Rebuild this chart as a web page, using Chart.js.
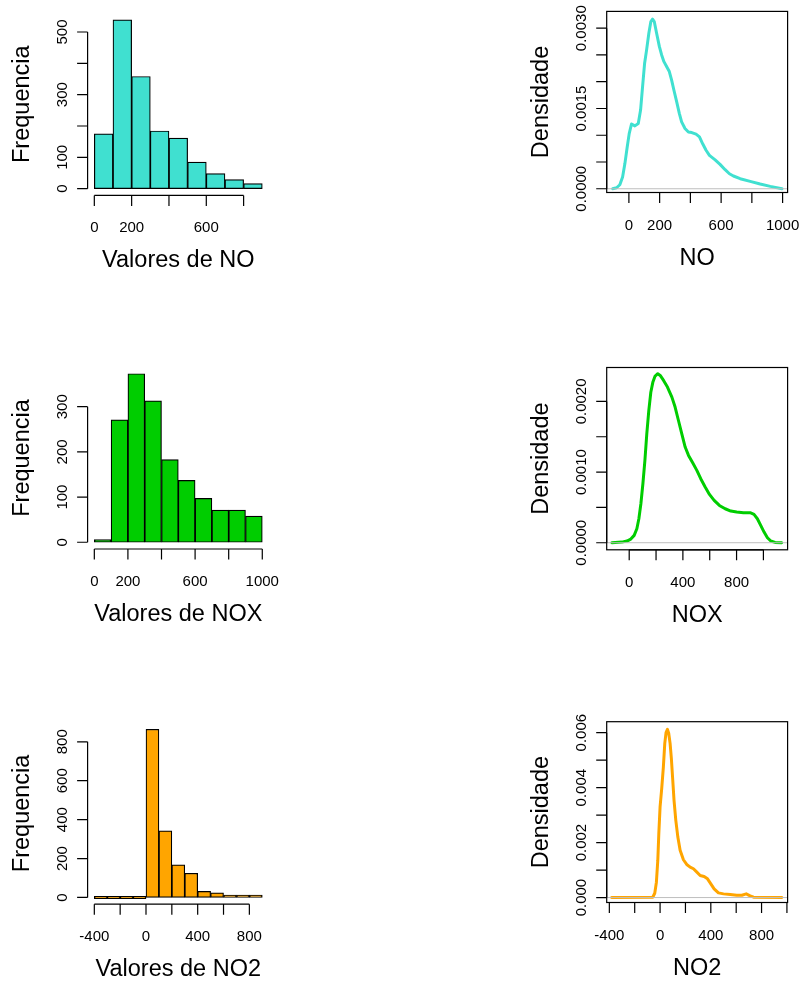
<!DOCTYPE html>
<html>
<head>
<meta charset="utf-8">
<script src="https://cdn.jsdelivr.net/npm/chart.js@4.4.1/dist/chart.umd.min.js"></script>
<style>
  html, body { margin: 0; padding: 0; background: #fff; }
  #page { position: relative; width: 803px; height: 983px; overflow: hidden; }
  canvas { position: absolute; }
</style>
</head>
<body>
<div id="page">
  <canvas id="histNO"></canvas>
  <canvas id="densNO"></canvas>
  <canvas id="histNOX"></canvas>
  <canvas id="densNOX"></canvas>
  <canvas id="histNO2"></canvas>
  <canvas id="densNO2"></canvas>
</div>
<script>
// histogram bins (edges) and counts
var noEdges = [0, 100, 200, 300, 400, 500, 600, 700, 800, 900];
var noCounts = [175, 539, 358, 184, 161, 85, 48, 29, 16];
var noxEdges = [0, 100, 200, 300, 400, 500, 600, 700, 800, 900, 1000];
var noxCounts = [6, 271, 373, 313, 183, 137, 97, 71, 71, 58];
var no2Edges = [-400, -300, -200, -100, 0, 100, 200, 300, 400, 500, 600, 700, 800, 900];
var no2Counts = [0, 0, 0, 0, 864, 342, 168, 124, 31, 24, 9, 3, 2];

// density curves
var noDensX = [-106, -80, -59, -41, -26, -11, 2, 17, 39, 61, 76, 89, 102, 115, 130, 143, 154, 165, 180, 198,
  213, 228, 246, 263, 278, 293, 311, 328, 343, 365, 387, 409, 437, 459, 480, 502, 524, 561, 593, 626,
  654, 680, 724, 789, 854, 920, 996];
var noDensY = [0, 0.000019, 0.000075, 0.00022, 0.00047, 0.00078, 0.00103, 0.00121, 0.001175, 0.00122,
  0.00147, 0.00191, 0.00234, 0.00259, 0.00291, 0.003125, 0.00317, 0.003125, 0.00291, 0.00266,
  0.0025, 0.002375, 0.00228, 0.00219, 0.00203, 0.00184, 0.001625, 0.00141, 0.00125, 0.001125,
  0.00106, 0.00105, 0.00102, 0.00097, 0.00084, 0.00072, 0.000625, 0.00054, 0.000456, 0.000356,
  0.00028, 0.000238, 0.000188, 0.000138, 0.0000875, 0.000044, 0];

var noxDensX = [-129, -55, -17, 12, 37, 57, 72, 87, 102, 117, 131, 146, 161, 176, 193, 213, 231, 256, 285, 318,
  342, 367, 392, 417, 442, 474, 504, 533, 566, 598, 633, 672, 715, 757, 801, 851, 901, 930, 955, 980,
  1005, 1030, 1055, 1087, 1136];
var noxDensY = [0, 0.000009, 0.000024, 0.000052, 0.000104, 0.000198, 0.00034, 0.000552, 0.000835, 0.001165,
  0.00154, 0.00187, 0.00213, 0.00227, 0.002359, 0.002392, 0.002368, 0.002297, 0.002203, 0.002061,
  0.00192, 0.00173, 0.001542, 0.001354, 0.001236, 0.001127, 0.001024, 0.000906, 0.000788, 0.000684,
  0.000599, 0.000528, 0.000481, 0.000448, 0.000434, 0.000425, 0.000425, 0.000401, 0.00034, 0.000245,
  0.000151, 0.000071, 0.000024, 0.000005, 0];

var no2DensX = [-382, -58, -42, -29, -18, -10, 0, 13, 26, 37, 47, 58, 68, 79, 89, 100, 110, 124, 140, 158,
  184, 210, 237, 263, 290, 316, 347, 374, 400, 426, 460, 500, 553, 605, 645, 679, 710, 737, 960];
var no2DensY = [0, 0.000012, 0.000158, 0.00056, 0.00135, 0.002325, 0.0033, 0.00397, 0.00476, 0.00561,
  0.006, 0.00612, 0.00598, 0.00561, 0.00506, 0.00427, 0.00354, 0.00281, 0.0022, 0.00172,
  0.001376, 0.001205, 0.001108, 0.001047, 0.000925, 0.000803, 0.000767, 0.000682, 0.000499, 0.000316,
  0.00017, 0.000134, 0.00011, 0.000085, 0.000085, 0.000134, 0.000061, 0.000012, 0];

// axis ticks and the labels R kept
var noHistXTicks = [0, 200, 400, 600, 800];
var noHistXLabels = ["0", "200", "", "600", ""];
var noHistYTicks = [0, 100, 200, 300, 400, 500];
var noHistYLabels = ["0", "100", "", "300", "", "500"];
var noxHistXTicks = [0, 200, 400, 600, 800, 1000];
var noxHistXLabels = ["0", "200", "", "600", "", "1000"];
var noxHistYTicks = [0, 100, 200, 300];
var noxHistYLabels = ["0", "100", "200", "300"];
var no2HistXTicks = [-400, -200, 0, 200, 400, 600, 800];
var no2HistXLabels = ["-400", "", "0", "", "400", "", "800"];
var no2HistYTicks = [0, 200, 400, 600, 800];
var no2HistYLabels = ["0", "200", "400", "600", "800"];

var noDensXTicks = [0, 200, 400, 600, 800, 1000];
var noDensXLabels = ["0", "200", "", "600", "", "1000"];
var noDensYTicks = [0, 0.0005, 0.001, 0.0015, 0.002, 0.0025, 0.003];
var noDensYLabels = ["0.0000", "", "", "0.0015", "", "", "0.0030"];
var noxDensXTicks = [0, 200, 400, 600, 800, 1000];
var noxDensXLabels = ["0", "", "400", "", "800", ""];
var noxDensYTicks = [0, 0.0005, 0.001, 0.0015, 0.002];
var noxDensYLabels = ["0.0000", "", "0.0010", "", "0.0020"];
var no2DensXTicks = [-400, -200, 0, 200, 400, 600, 800, 1000];
var no2DensXLabels = ["-400", "", "0", "", "400", "", "800", ""];
var no2DensYTicks = [0, 0.001, 0.002, 0.003, 0.004, 0.005, 0.006];
var no2DensYLabels = ["0.000", "", "0.002", "", "0.004", "", "0.006"];

// density plot limits
var noDensXLim = [-144.4, 1032.5];
var noDensYLim = [-0.00007, 0.003314];
var noxDensXLim = [-167.7, 1180.3];
var noxDensYLim = [-0.0001, 0.00248];
var no2DensXLim = [-420.8, 1005.3];
var no2DensYLim = [-0.00018, 0.0064];

var TICK = 10.5;
var FONT = "'Liberation Sans', Arial, Helvetica, sans-serif";

function rLimits(a, b) {
  var d = (b - a) * 0.04;
  return [a - d, b + d];
}

function rAxes(p) {
  return {
    id: "rAxes",
    afterDatasetsDraw: function (chart) {
      if (!p.zeroLine) return;
      var ctx = chart.ctx, a = chart.chartArea;
      var y0 = chart.scales.y.getPixelForValue(0);
      ctx.save();
      ctx.strokeStyle = "#BEBEBE";
      ctx.lineWidth = 1;
      ctx.beginPath();
      ctx.moveTo(a.left, y0);
      ctx.lineTo(a.right, y0);
      ctx.stroke();
      ctx.restore();
    },
    afterDraw: function (chart) {
      var ctx = chart.ctx, a = chart.chartArea;
      var xs = chart.scales.x, ys = chart.scales.y;
      var xp = p.xTicks.map((v) => xs.getPixelForValue(v));
      var yp = p.yTicks.map((v) => ys.getPixelForValue(v));
      ctx.save();
      ctx.strokeStyle = "#000";
      ctx.fillStyle = "#000";
      ctx.lineWidth = 1.2;
      if (p.box) ctx.strokeRect(a.left, a.top, a.right - a.left, a.bottom - a.top);
      ctx.beginPath();
      ctx.moveTo(xp[0], a.bottom);
      ctx.lineTo(xp[xp.length - 1], a.bottom);
      xp.forEach((px) => {
        ctx.moveTo(px, a.bottom);
        ctx.lineTo(px, a.bottom + TICK);
      });
      ctx.moveTo(a.left, yp[0]);
      ctx.lineTo(a.left, yp[yp.length - 1]);
      yp.forEach((py) => {
        ctx.moveTo(a.left, py);
        ctx.lineTo(a.left - TICK, py);
      });
      ctx.stroke();

      ctx.font = "15px " + FONT;
      ctx.textAlign = "center";
      ctx.textBaseline = "alphabetic";
      p.xLabels.forEach((t, i) => {
        if (t) ctx.fillText(t, xp[i], a.bottom + 37);
      });
      p.yLabels.forEach((t, i) => {
        if (!t) return;
        ctx.save();
        ctx.translate(a.left - 21, yp[i]);
        ctx.rotate(-Math.PI / 2);
        ctx.fillText(t, 0, 0);
        ctx.restore();
      });

      ctx.font = "23.5px " + FONT;
      ctx.fillText(p.xTitle, (a.left + a.right) / 2, a.bottom + 72);
      ctx.save();
      ctx.translate(a.left - 59, (a.top + a.bottom) / 2);
      ctx.rotate(-Math.PI / 2);
      ctx.fillText(p.yTitle, 0, 0);
      ctx.restore();
      ctx.restore();
    },
  };
}

function placeCanvas(id, cell, area) {
  var canvas = document.getElementById(id);
  canvas.width = cell.w;
  canvas.height = cell.h;
  canvas.style.left = cell.x + "px";
  canvas.style.top = cell.y + "px";
  return {
    canvas: canvas,
    padding: {
      left: area.l - cell.x,
      right: cell.x + cell.w - area.r,
      top: area.t - cell.y,
      bottom: cell.y + cell.h - area.b,
    },
  };
}

function histChart(id, cell, area, edges, counts, color, axes) {
  var c = placeCanvas(id, cell, area);
  var xlim = rLimits(edges[0], edges[edges.length - 1]);
  var ylim = rLimits(0, Math.max(...counts));
  return new Chart(c.canvas, {
    type: "bar",
    data: {
      datasets: [
        {
          data: counts.map((n, i) => ({ x: (edges[i] + edges[i + 1]) / 2, y: n })),
          backgroundColor: color,
          borderColor: "#000",
          borderWidth: 1.2,
          borderSkipped: false,
          barPercentage: 1,
          categoryPercentage: 1,
          minBarLength: 2.5,
        },
      ],
    },
    options: {
      responsive: false,
      animation: false,
      devicePixelRatio: 1,
      layout: { padding: c.padding },
      plugins: { legend: { display: false }, tooltip: { enabled: false } },
      scales: {
        x: {
          type: "linear",
          min: xlim[0],
          max: xlim[1],
          offset: false,
          display: false,
          afterBuildTicks: (s) => {
            s.ticks = edges.map((v) => ({ value: v }));
          },
        },
        y: { type: "linear", min: ylim[0], max: ylim[1], display: false },
      },
    },
    plugins: [rAxes(axes)],
  });
}

function densChart(id, cell, area, xs, ys, xlim, ylim, color, axes) {
  var c = placeCanvas(id, cell, area);
  axes.box = true;
  axes.zeroLine = true;
  return new Chart(c.canvas, {
    type: "line",
    data: {
      datasets: [
        {
          data: xs.map((x, i) => ({ x: x, y: ys[i] })),
          borderColor: color,
          borderWidth: 3,
          borderCapStyle: "round",
          borderJoinStyle: "round",
          pointRadius: 0,
          fill: false,
          tension: 0,
        },
      ],
    },
    options: {
      responsive: false,
      animation: false,
      devicePixelRatio: 1,
      layout: { padding: c.padding },
      plugins: { legend: { display: false }, tooltip: { enabled: false } },
      scales: {
        x: { type: "linear", min: xlim[0], max: xlim[1], display: false },
        y: { type: "linear", min: ylim[0], max: ylim[1], display: false },
      },
    },
    plugins: [rAxes(axes)],
  });
}

var leftCell = { x: 0, w: 401 };
var rightCell = { x: 401, w: 402 };
var rows = [
  { y: 0, h: 327 },
  { y: 327, h: 328 },
  { y: 655, h: 328 },
];
function cell(col, row) {
  return { x: col.x, w: col.w, y: rows[row].y, h: rows[row].h };
}

histChart("histNO", cell(leftCell, 0), { l: 87.6, r: 269.0, t: 13.0, b: 195.4 },
  noEdges, noCounts, "#40E0D0", {
    xTicks: noHistXTicks, xLabels: noHistXLabels, yTicks: noHistYTicks, yLabels: noHistYLabels,
    xTitle: "Valores de NO", yTitle: "Frequencia",
  });
histChart("histNOX", cell(leftCell, 1), { l: 87.6, r: 269.0, t: 367.0, b: 549.0 },
  noxEdges, noxCounts, "#00CD00", {
    xTicks: noxHistXTicks, xLabels: noxHistXLabels, yTicks: noxHistYTicks, yLabels: noxHistYLabels,
    xTitle: "Valores de NOX", yTitle: "Frequencia",
  });
histChart("histNO2", cell(leftCell, 2), { l: 87.6, r: 269.0, t: 722.6, b: 904.2 },
  no2Edges, no2Counts, "#FFA500", {
    xTicks: no2HistXTicks, xLabels: no2HistXLabels, yTicks: no2HistYTicks, yLabels: no2HistYLabels,
    xTitle: "Valores de NO2", yTitle: "Frequencia",
  });

densChart("densNO", cell(rightCell, 0), { l: 606.7, r: 787.6, t: 11.4, b: 192.5 },
  noDensX, noDensY, noDensXLim, noDensYLim, "#40E0D0", {
    xTicks: noDensXTicks, xLabels: noDensXLabels, yTicks: noDensYTicks, yLabels: noDensYLabels,
    xTitle: "NO", yTitle: "Densidade",
  });
densChart("densNOX", cell(rightCell, 1), { l: 606.7, r: 787.6, t: 367.5, b: 549.8 },
  noxDensX, noxDensY, noxDensXLim, noxDensYLim, "#00CD00", {
    xTicks: noxDensXTicks, xLabels: noxDensXLabels, yTicks: noxDensYTicks, yLabels: noxDensYLabels,
    xTitle: "NOX", yTitle: "Densidade",
  });
densChart("densNO2", cell(rightCell, 2), { l: 606.7, r: 787.6, t: 721.7, b: 902.5 },
  no2DensX, no2DensY, no2DensXLim, no2DensYLim, "#FFA500", {
    xTicks: no2DensXTicks, xLabels: no2DensXLabels, yTicks: no2DensYTicks, yLabels: no2DensYLabels,
    xTitle: "NO2", yTitle: "Densidade",
  });
</script>
</body>
</html>
